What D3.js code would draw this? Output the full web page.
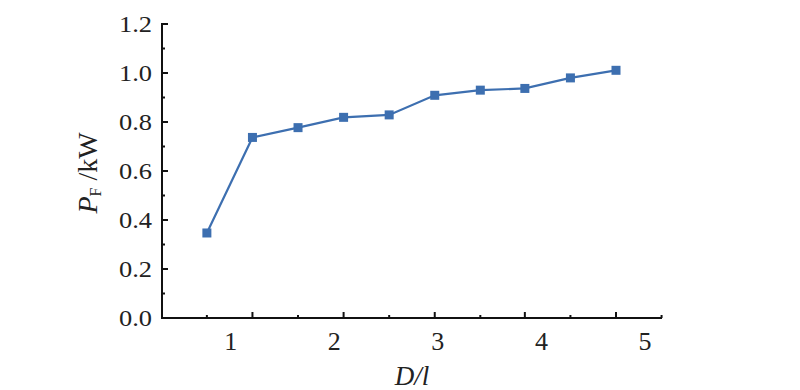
<!DOCTYPE html>
<html><head><meta charset="utf-8">
<script src="https://cdn.jsdelivr.net/npm/d3@7"></script>
<style>body{margin:0;background:#fff}svg{display:block}svg text{font-family:"Liberation Serif","DejaVu Serif",serif;fill:#222}</style>
</head><body><svg id="c" width="800" height="390"></svg>
<script>
const dl = [0.77, 1.21, 1.65, 2.09, 2.53, 2.97, 3.41, 3.84, 4.28, 4.72];
const pf = [0.347, 0.737, 0.777, 0.819, 0.829, 0.909, 0.930, 0.937, 0.980, 1.011];
const xTickLabels = [1, 2, 3, 4, 5];
const yTickLabels = [0.0, 0.2, 0.4, 0.6, 0.8, 1.0, 1.2];
const xMarkTicks = [0.77, 1.21, 1.65, 2.09, 2.53, 2.97, 3.41, 3.84, 4.28, 4.72, 5.16];

const svg = d3.select("#c");
const x = d3.scaleLinear().domain([1, 5]).range([230.7, 645]);
const y = d3.scaleLinear().domain([0, 1.2]).range([318, 24]);
const x0 = 162, x1 = 662;
const col = "#3d6fb0";

// axes lines
const g = svg.append("g").attr("stroke", "#111").attr("stroke-width", 2).attr("fill", "none");
g.append("path").attr("d", `M${x0+5},${y(1.2)}H${x0}V${y(0)}H${x1}`);

// y ticks (inward)
d3.range(0, 13).forEach(i => {
  const v = i / 10, len = i % 2 === 0 ? 6 : 3;
  g.append("line").attr("x1", x0).attr("x2", x0 + len).attr("y1", y(v)).attr("y2", y(v));
});
// x ticks at data positions (inward)
xMarkTicks.forEach((v, i) => {
  const len = i % 2 === 1 ? 6 : 3;
  g.append("line").attr("x1", x(v)).attr("x2", x(v)).attr("y1", y(0)).attr("y2", y(0) - len);
});

// y tick labels
svg.append("g").selectAll("text").data(yTickLabels).join("text")
  .attr("transform", d => `translate(152,${y(d) + 7.5}) scale(1.15,1)`)
  .attr("text-anchor", "end").style("font-size", "23px")
  .text(d => d.toFixed(1));
// x tick labels
svg.append("g").selectAll("text").data(xTickLabels).join("text")
  .attr("x", d => x(d)).attr("y", 350)
  .attr("text-anchor", "middle").style("font-size", "26px")
  .text(d => d);

// titles
svg.append("text").attr("x", (x0 + x1) / 2).attr("y", 385).attr("text-anchor", "middle")
  .style("font-size", "27px").style("font-style", "italic").text("D/l");

const yt = svg.append("text").attr("transform", "translate(97,173) rotate(-90)").attr("text-anchor", "middle")
  .style("font-size", "28px");
yt.append("tspan").style("font-style", "italic").text("P");
yt.append("tspan").style("font-size", "16px").attr("dy", 4).text("F");
yt.append("tspan").attr("dy", -4).text(" /kW");

// line
const line = d3.line().x((d, i) => x(dl[i])).y(d => y(d));
svg.append("path").datum(pf).attr("d", line).attr("fill", "none").attr("stroke", col).attr("stroke-width", 2.2);
svg.append("g").selectAll("rect").data(pf).join("rect")
  .attr("x", (d, i) => x(dl[i]) - 4.5).attr("y", d => y(d) - 4.5)
  .attr("width", 9).attr("height", 9).attr("fill", col);
</script></body></html>
